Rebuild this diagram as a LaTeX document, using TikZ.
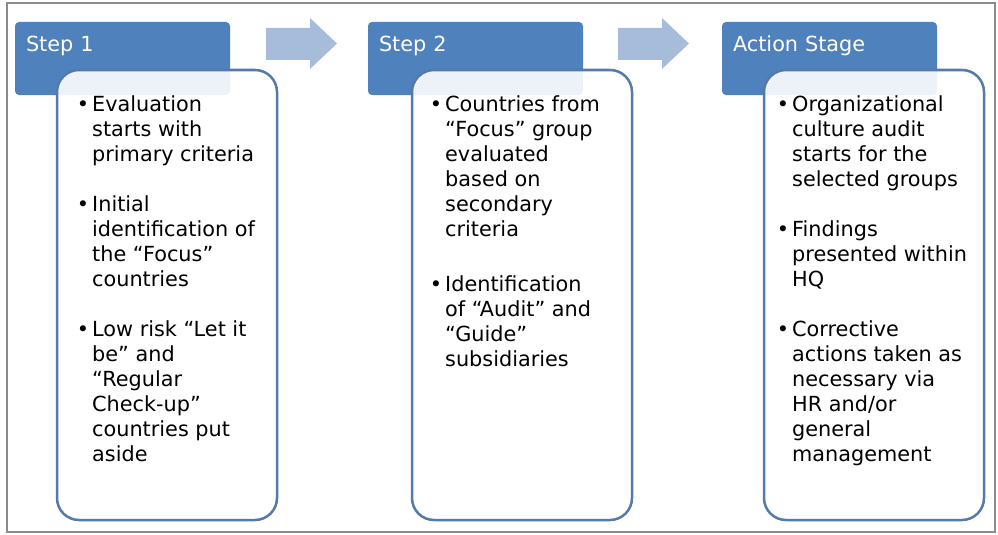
\documentclass[tikz,border=0pt]{standalone}
\usepackage{fontspec}
\setmainfont{DejaVu Sans}
\usetikzlibrary{positioning}
\definecolor{stepblue}{RGB}{79,129,189}
\definecolor{panelline}{RGB}{84,122,168}
\definecolor{flowblue}{RGB}{167,188,218}
\definecolor{framegray}{RGB}{140,140,140}
\newcommand{\bul}{\llap{\textbullet\hspace{3pt}}}
\newcommand{\topline}{\rule{0pt}{16pt}}

\begin{document}
\begin{tikzpicture}[x=1pt, y=-1pt, font=\fontsize{20.8pt}{25pt}\selectfont,
  header/.style={fill=stepblue, rounded corners=4pt, anchor=north west, outer sep=0pt,
    inner xsep=11pt, inner ysep=0pt, text width=193pt, align=left,
    text height=30pt, text depth=43pt, text=white},
  panel/.style={draw=panelline, line width=2.5pt, fill=white, fill opacity=0.9,
    rounded corners=22pt, anchor=north west, outer sep=0pt,
    minimum width=220pt, minimum height=450pt},
  points/.style={anchor=north west, align=left, inner sep=0pt, text=black}]

\useasboundingbox (0,0) rectangle (998,535);

%% outer frame
\draw[framegray, line width=1.5pt] (7,3) rectangle (995,532);

%% flow arrows between the stages
\foreach \dx in {0,352}{
  \fill[flowblue] (266+\dx,28) -- (310+\dx,28) -- (310+\dx,18) -- (337+\dx,43.5)
    -- (310+\dx,69) -- (310+\dx,60) -- (266+\dx,60) -- cycle;
}

%% ===================== Step 1 =====================
\node[header] (h1) at (15,22) {Step 1};
\node[panel] (p1) at (57,70) {};
\node[points] (t1) at ([shift={(35,25)}]p1.north west)
  {\topline\bul Evaluation\\ starts with\\ primary criteria\\[25pt]
   \bul Initial\\ identification of\\ the “Focus”\\ countries\\[25pt]
   \bul Low risk “Let it\\ be” and\\ “Regular\\ Check-up”\\ countries put\\ aside};

%% ===================== Step 2 =====================
\node[header] (h2) at (368,22) {Step 2};
\node[panel] (p2) at (412,70) {};
\node[points] (t2) at ([shift={(33,25)}]p2.north west)
  {\topline\bul Countries from\\ “Focus” group\\ evaluated\\ based on\\ secondary\\ criteria\\[30pt]
   \bul Identification\\ of “Audit” and\\ “Guide”\\ subsidiaries};

%% ===================== Action stage =====================
\node[header] (h3) at (722,22) {Action Stage};
\node[panel] (p3) at (764,70) {};
\node[points] (t3) at ([shift={(28,25)}]p3.north west)
  {\topline\bul Organizational\\ culture audit\\ starts for the\\ selected groups\\[25pt]
   \bul Findings\\ presented within\\ HQ\\[25pt]
   \bul Corrective\\ actions taken as\\ necessary via\\ HR and/or\\ general\\ management};

\end{tikzpicture}
\end{document}
